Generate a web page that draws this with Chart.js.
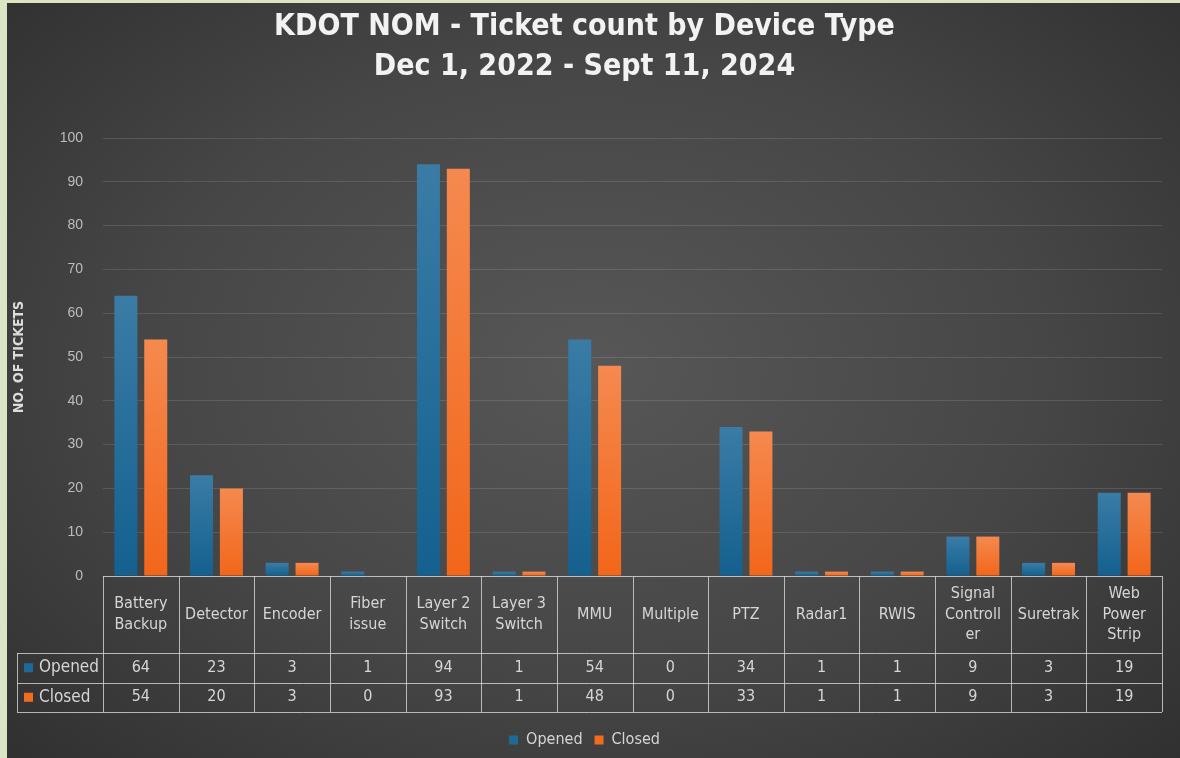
<!DOCTYPE html>
<html>
<head>
<meta charset="utf-8">
<script src="https://cdn.jsdelivr.net/npm/chart.js@4.4.1/dist/chart.umd.min.js"></script>
<style>
  html, body { margin: 0; padding: 0; width: 1180px; height: 758px; overflow: hidden; background: #dbe5c5; }
  #wrap {
    position: absolute; left: 7px; top: 3px; width: 1173px; height: 755px;
    background: radial-gradient(ellipse 70% 75% at 50% 48%, #575757 0%, #464646 55%, #303030 100%);
  }
</style>
</head>
<body>
<div id="wrap"><canvas id="chart"></canvas></div>
<script>
// ── Data ──────────────────────────────────────────────
const categories = [
  ['Battery', 'Backup'], 'Detector', 'Encoder', ['Fiber', 'issue'], ['Layer 2', 'Switch'],
  ['Layer 3', 'Switch'], 'MMU', 'Multiple', 'PTZ', 'Radar1', 'RWIS',
  ['Signal', 'Controll', 'er'], 'Suretrak', ['Web', 'Power', 'Strip']
];
const opened = [64, 23, 3, 1, 94, 1, 54, 0, 34, 1, 1, 9, 3, 19];
const closed = [54, 20, 3, 0, 93, 1, 48, 0, 33, 1, 1, 9, 3, 19];
const yTicks = [0, 10, 20, 30, 40, 50, 60, 70, 80, 90, 100];

const BLUE = '#1d6a99', ORANGE = '#f26b1f';
const TXT = '#d6d6d6';
const NARROW = "'Liberation Sans Narrow', 'DejaVu Sans Condensed', 'Liberation Sans', sans-serif";

// per-bar vertical gradient, like the Excel fill
function barFill(top, bottom) {
  return ctx => {
    const { chart, raw } = ctx;
    const y = chart.scales.y;
    if (!y || !chart.chartArea) return bottom;
    const y0 = y.getPixelForValue(0), y1 = y.getPixelForValue(raw || 0);
    if (Math.abs(y0 - y1) < 1) return bottom;
    const g = chart.ctx.createLinearGradient(0, y1, 0, y0);
    g.addColorStop(0, top);
    g.addColorStop(1, bottom);
    return g;
  };
}

// ── Data table under the plot ─────────────────────────
const HEAD_H = 77, ROW_H = 29.5, LABEL_LEFT = 10;

const dataTable = {
  id: 'dataTable',
  afterDraw(chart) {
    const { ctx, chartArea, scales: { x } } = chart;
    const n = categories.length;
    const w = (x.right - x.left) / n;
    const top = chartArea.bottom;
    const r1 = top + HEAD_H, r2 = r1 + ROW_H, bottom = r2 + ROW_H;
    const px = v => Math.round(v) + 0.5;

    ctx.save();
    ctx.strokeStyle = 'rgba(215,215,215,0.8)';
    ctx.lineWidth = 1;
    ctx.beginPath();
    const h = (a, b, y) => { ctx.moveTo(a, px(y)); ctx.lineTo(b, px(y)); };
    const v = (xx, a, b) => { ctx.moveTo(px(xx), a); ctx.lineTo(px(xx), b); };
    h(x.left, x.right, top);
    h(LABEL_LEFT, x.right, r1);
    h(LABEL_LEFT, x.right, r2);
    h(LABEL_LEFT, x.right, bottom);
    v(LABEL_LEFT, r1, bottom);
    for (let i = 0; i <= n; i++) v(x.left + i * w, top, bottom);
    ctx.stroke();

    // header labels
    const cellFont = `16px ${NARROW}`;
    ctx.fillStyle = TXT;
    ctx.textAlign = 'center';
    ctx.textBaseline = 'middle';
    ctx.font = cellFont;
    const lh = 20.5;
    categories.forEach((c, i) => {
      const lines = Array.isArray(c) ? c : [c];
      const cx = x.getPixelForValue(i);
      const y0 = top + HEAD_H / 2 - (lines.length - 1) * lh / 2;
      lines.forEach((t, k) => ctx.fillText(t, cx, y0 + k * lh));
    });

    // value rows
    chart.data.datasets.forEach((ds, r) => {
      const cy = r1 + ROW_H * r + ROW_H / 2;
      ds.data.forEach((val, i) => ctx.fillText(String(val), x.getPixelForValue(i), cy));
      ctx.fillStyle = ds.borderColor;
      ctx.fillRect(LABEL_LEFT + 7, cy - 4.5, 9, 9);
      ctx.fillStyle = TXT;
      ctx.textAlign = 'left';
      ctx.font = `17px ${NARROW}`;
      ctx.fillText(ds.label, LABEL_LEFT + 22, cy);
      ctx.textAlign = 'center';
      ctx.font = cellFont;
    });
    ctx.restore();
  }
};

new Chart(document.getElementById('chart'), {
  type: 'bar',
  data: {
    labels: categories,
    datasets: [
      { label: 'Opened', data: opened, borderColor: BLUE, borderWidth: 0,
        backgroundColor: barFill('#3a7ca6', '#14608f') },
      { label: 'Closed', data: closed, borderColor: ORANGE, borderWidth: 0,
        backgroundColor: barFill('#f5894f', '#f2661a') },
    ]
  },
  options: {
    responsive: true,
    maintainAspectRatio: false,
    animation: false,
    layout: { padding: { top: 0, right: 18, bottom: 0, left: 0 } },
    datasets: { bar: { categoryPercentage: 0.79, barPercentage: 0.77 } },
    plugins: {
      title: {
        display: true,
        text: ['KDOT NOM - Ticket count by Device Type', 'Dec 1, 2022 - Sept 11, 2024'],
        color: '#f2f2f2',
        font: { size: 30, weight: 'bold', family: "'DejaVu Sans Condensed', 'Open Sans', sans-serif", lineHeight: '40px' },
        padding: { top: 4, bottom: 51 }
      },
      legend: {
        position: 'bottom',
        labels: { color: TXT, boxWidth: 9, boxHeight: 9, padding: 12,
          font: { size: 16, family: NARROW },
          generateLabels: chart => chart.data.datasets.map((ds, i) => ({
            text: ds.label, fillStyle: ds.borderColor, strokeStyle: ds.borderColor,
            lineWidth: 0, fontColor: TXT, datasetIndex: i, hidden: false
          }))
        }
      },
      tooltip: { enabled: false }
    },
    scales: {
      x: {
        ticks: { display: false },
        grid: { display: false },
        border: { display: false },
        afterFit: s => { s.height = 144; }
      },
      y: {
        min: 0, max: 100,
        afterBuildTicks: s => { s.ticks = yTicks.map(value => ({ value })); },
        afterFit: s => { s.width = 96; },
        ticks: { color: '#bdbdbd', padding: 20, font: { size: 14, family: "'Liberation Sans', Arial, sans-serif" } },
        grid: { color: 'rgba(255,255,255,0.12)', drawTicks: false },
        border: { display: false },
        title: {
          display: true, text: 'NO. OF TICKETS', color: '#dcdcdc',
          font: { size: 14, weight: 'bold', family: NARROW },
          padding: { top: 4, bottom: 0 }
        }
      }
    }
  },
  plugins: [dataTable]
});
</script>
</body>
</html>
